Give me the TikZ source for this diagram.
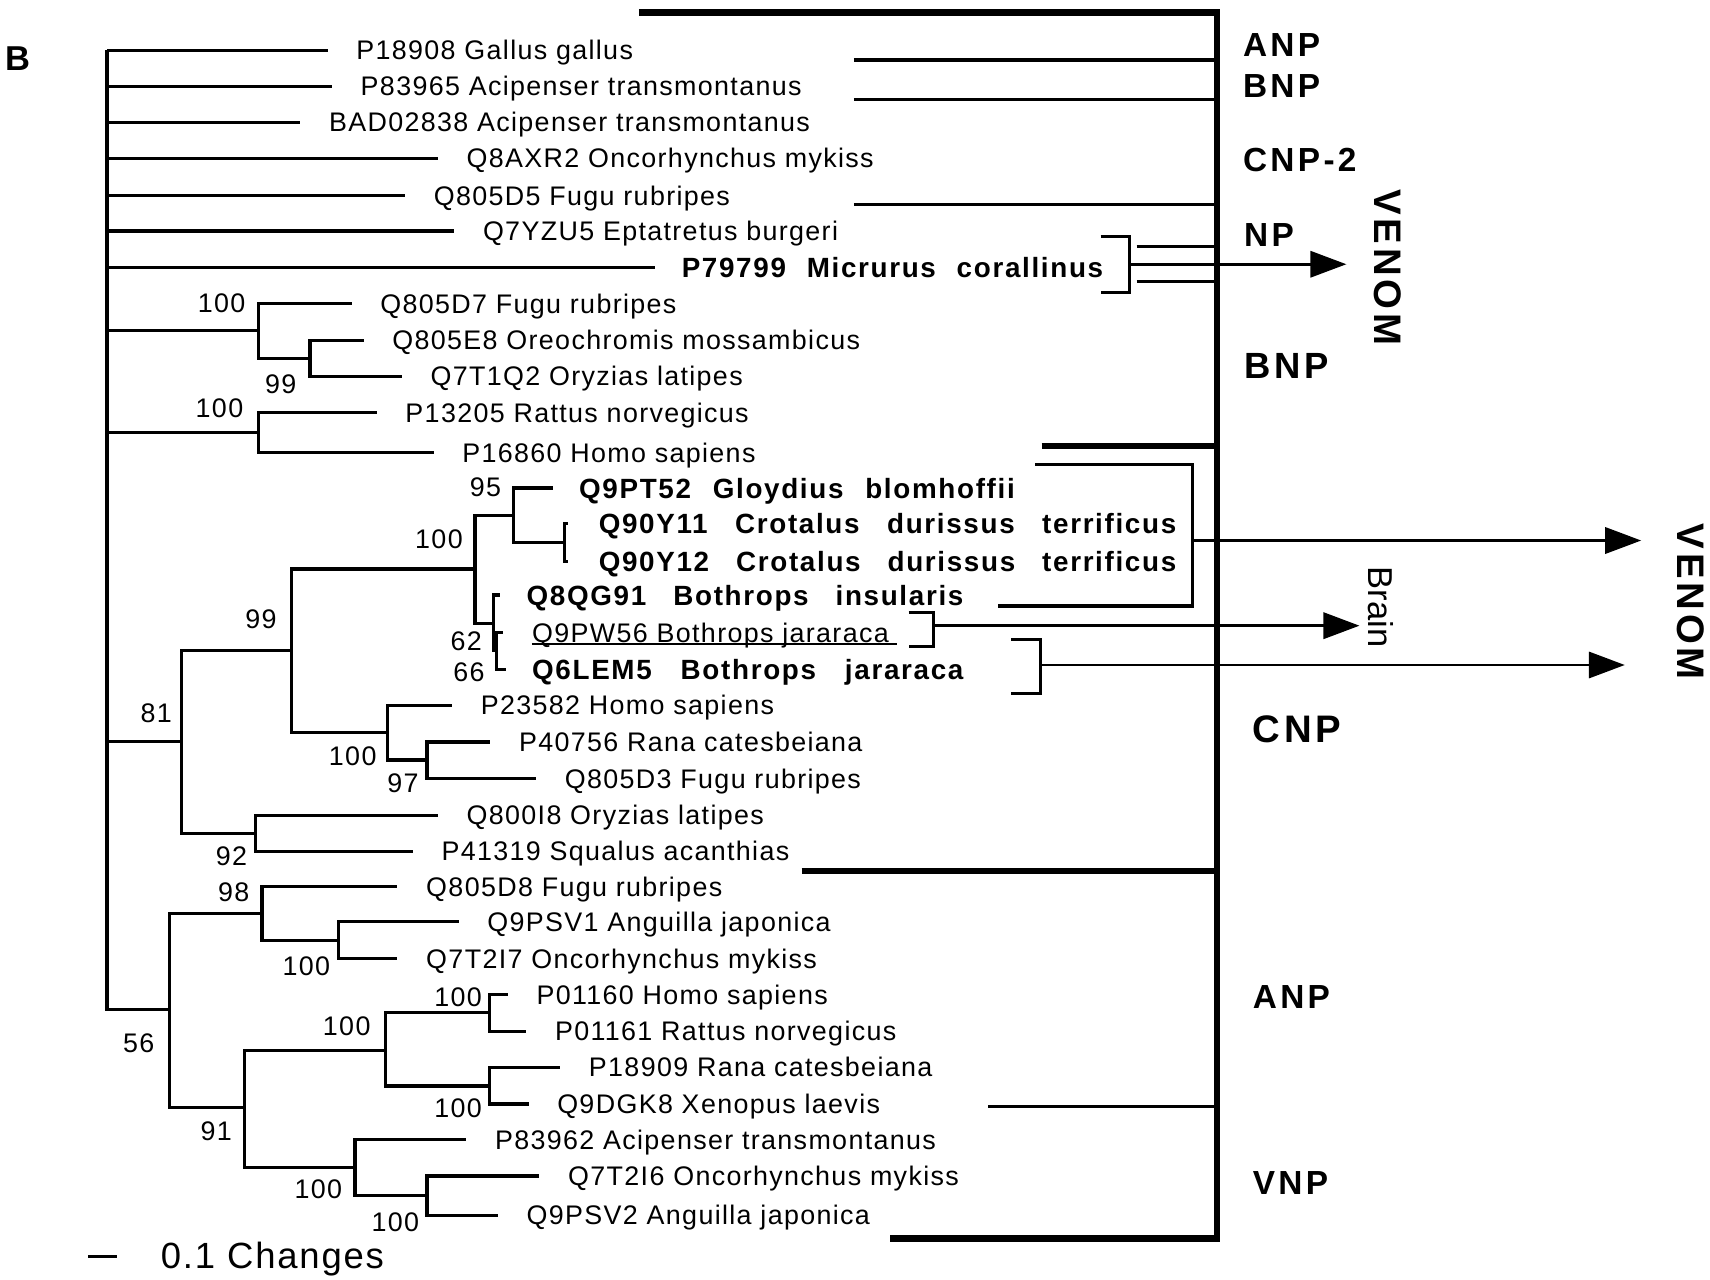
\documentclass[tikz,border=0pt]{standalone}
\usepackage{fontspec}
\setmainfont{Liberation Sans}
\newfontfamily\leaffont{Liberation Sans}[LetterSpace=5]
\newfontfamily\snakefont{Liberation Sans}[LetterSpace=6]
\newfontfamily\venomfont{Liberation Sans}[LetterSpace=10]
\usetikzlibrary{arrows.meta}
\newcommand{\vname}[2]{\makebox[#1][s]{#2}}

\tikzset{
  br/.style={line width=1.7pt},
  leaf/.style={anchor=west,inner xsep=0.52cm,inner ysep=0pt,text height=0.35cm,text depth=0pt,
    font=\leaffont\fontsize{14}{16}\selectfont},
  vleaf/.style={leaf,inner xsep=0.48cm,text height=0.365cm,
    font=\snakefont\bfseries\fontsize{14.5}{16}\selectfont},
  boot/.style={inner sep=0pt,font=\leaffont\fontsize{14}{16}\selectfont},
  grp/.style={anchor=west,inner sep=0pt,font=\venomfont\bfseries\fontsize{17.4}{20}\selectfont},
  venom/.style={rotate=-90,inner sep=0pt,font=\venomfont\bfseries\fontsize{20}{24}\selectfont},
  spine/.style={line width=3.5pt},
  sepline/.style={line width=3.1pt},
  thinl/.style={line width=1.7pt},
  brk/.style={line width=1.6pt},
  arr/.style={line width=1.5pt,-{Triangle[length=0.66cm,width=0.48cm]}},
}

\begin{document}
\begin{tikzpicture}[x=0.02cm,y=-0.02cm]
\useasboundingbox (0,0) rectangle (1566,1172);

%panel letter
\node[inner sep=0pt,font=\bfseries\fontsize{18}{20}\selectfont] (panelB) at (16,54) {B};

%internal nodes
\coordinate (root) at (98,46);
\coordinate (n1) at (237,303);
\coordinate (n2) at (284,328);
\coordinate (n3) at (237,396);
\coordinate (n4) at (166,679);
\coordinate (n5) at (267,595.5);
\coordinate (n6) at (435,521);
\coordinate (n7) at (470,472);
\coordinate (n8) at (452,571);
\coordinate (n9) at (517,497);
\coordinate (n10) at (355,671);
\coordinate (n11) at (455,596);
\coordinate (n12) at (234,763);
\coordinate (n13) at (391,696);
\coordinate (n14) at (155,924.5);
\coordinate (n15) at (240,836.5);
\coordinate (n16) at (310,861);
\coordinate (n17) at (224,1014.5);
\coordinate (n18) at (353,962);
\coordinate (n19) at (448,927.5);
\coordinate (n20) at (448,994.5);
\coordinate (n21) at (325,1069.5);
\coordinate (n22) at (391,1095);

%leaves
\node[leaf] (p18908) at (300,46) {P18908 Gallus gallus};
\node[leaf] (p83965) at (304,79) {P83965 Acipenser transmontanus};
\node[leaf] (bad02838) at (275,112) {BAD02838 Acipenser transmontanus};
\node[leaf] (q8axr2) at (401,145) {Q8AXR2 Oncorhynchus mykiss};
\node[leaf] (q805d5) at (371,179) {Q805D5 Fugu rubripes};
\node[leaf] (q7yzu5) at (416,211.5) {Q7YZU5 Eptatretus burgeri};
\node[vleaf] (p79799) at (600,245) {\vname{7.72cm}{P79799 Micrurus corallinus}};
\node[leaf] (q805d7) at (322,278) {Q805D7 Fugu rubripes};
\node[leaf] (q805e8) at (333,311.5) {Q805E8 Oreochromis mossambicus};
\node[leaf] (q7t1q2) at (368,344.5) {Q7T1Q2 Oryzias latipes};
\node[leaf] (p13205) at (345,378) {P13205 Rattus norvegicus};
\node[leaf] (p16860) at (397,414.5) {P16860 Homo sapiens};
\node[vleaf] (q9pt52) at (506,447) {\vname{7.98cm}{Q9PT52 Gloydius blomhoffii}};
\node[vleaf,inner xsep=0.56cm] (q90y11) at (520,479.5) {\vname{10.58cm}{Q90Y11 Crotalus durissus terrificus}};
\node[vleaf,inner xsep=0.56cm] (q90y12) at (520,514.5) {\vname{10.58cm}{Q90Y12 Crotalus durissus terrificus}};
\node[vleaf] (q8qg91) at (458,545) {\vname{8cm}{Q8QG91 Bothrops insularis}};
\node[leaf] (q9pw56) at (461,579.5) {Q9PW56 Bothrops jararaca};
\node[vleaf] (q6lem5) at (463,613) {\vname{7.9cm}{Q6LEM5 Bothrops jararaca}};
\node[leaf] (p23582) at (414,646) {P23582 Homo sapiens};
\node[leaf] (p40756) at (449,679.5) {P40756 Rana catesbeiana};
\node[leaf] (q805d3) at (491,713) {Q805D3 Fugu rubripes};
\node[leaf] (q800i8) at (401,746.5) {Q800I8 Oryzias latipes};
\node[leaf] (p41319) at (378,779.5) {P41319 Squalus acanthias};
\node[leaf] (q805d8) at (364,812) {Q805D8 Fugu rubripes};
\node[leaf] (q9psv1) at (420,844) {Q9PSV1 Anguilla japonica};
\node[leaf] (q7t2i7) at (364,878) {Q7T2I7 Oncorhynchus mykiss};
\node[leaf] (p01160) at (465,911) {P01160 Homo sapiens};
\node[leaf] (p01161) at (482,944.5) {P01161 Rattus norvegicus};
\node[leaf] (p18909) at (513,977.5) {P18909 Rana catesbeiana};
\node[leaf] (q9dgk8) at (484,1011) {Q9DGK8 Xenopus laevis};
\node[leaf] (p83962) at (427,1043.5) {P83962 Acipenser transmontanus};
\node[leaf] (q7t2i6) at (494,1077) {Q7T2I6 Oncorhynchus mykiss};
\node[leaf] (q9psv2) at (456,1113) {Q9PSV2 Anguilla japonica};
\draw[line width=1pt] ([xshift=0.52cm,yshift=-0.03cm]q9pw56.south west) -- ([xshift=-0.38cm,yshift=-0.03cm]q9pw56.south east);

%branches
\foreach \n in {p18908.west,p83965.west,bad02838.west,q8axr2.west,q805d5.west,q7yzu5.west,p79799.west,n1,n3,n4,n14}
  \draw[br] (root) |- (\n);
\draw[br] (n1) |- (q805d7.west);
\draw[br] (n1) |- (n2);
\draw[br] (n2) |- (q805e8.west);
\draw[br] (n2) |- (q7t1q2.west);
\draw[br] (n3) |- (p13205.west);
\draw[br] (n3) |- (p16860.west);
\draw[br] (n4) |- (n5);
\draw[br] (n4) |- (n12);
\draw[br] (n5) |- (n6);
\draw[br] (n5) |- (n10);
\draw[br] (n6) |- (n7);
\draw[br] (n6) |- (n8);
\draw[br] (n7) |- (q9pt52.west);
\draw[br] (n7) |- (n9);
\draw[brk] (n9) |- (q90y11.west);
\draw[brk] (n9) |- (q90y12.west);
\draw[br] (n8) |- (q8qg91.west);
\draw[br] (n8) |- (n11);
\draw[br] (n11) |- (q9pw56.west);
\draw[br] (n11) |- (q6lem5.west);
\draw[br] (n10) |- (p23582.west);
\draw[br] (n10) |- (n13);
\draw[br] (n13) |- (p40756.west);
\draw[br] (n13) |- (q805d3.west);
\draw[br] (n12) |- (q800i8.west);
\draw[br] (n12) |- (p41319.west);
\draw[br] (n14) |- (n15);
\draw[br] (n14) |- (n17);
\draw[br] (n15) |- (q805d8.west);
\draw[br] (n15) |- (n16);
\draw[br] (n16) |- (q9psv1.west);
\draw[br] (n16) |- (q7t2i7.west);
\draw[br] (n17) |- (n18);
\draw[br] (n17) |- (n21);
\draw[br] (n18) |- (n19);
\draw[br] (n18) |- (n20);
\draw[br] (n19) |- (p01160.west);
\draw[br] (n19) |- (p01161.west);
\draw[br] (n20) |- (p18909.west);
\draw[br] (n20) |- (q9dgk8.west);
\draw[br] (n21) |- (p83962.west);
\draw[br] (n21) |- (n22);
\draw[br] (n22) |- (q7t2i6.west);
\draw[br] (n22) |- (q9psv2.west);

%bootstrap values
\node[boot] (s1) at (203,278) {100};
\node[boot] (s2) at (257,352) {99};
\node[boot] (s3) at (201,374) {100};
\node[boot] (s4) at (444.5,446.5) {95};
\node[boot] (s5) at (402,494) {100};
\node[boot] (s6) at (239,567) {99};
\node[boot] (s7) at (143,653) {81};
\node[boot] (s8) at (427,587) {62};
\node[boot] (s9) at (429.5,615.5) {66};
\node[boot] (s10) at (323,693) {100};
\node[boot] (s11) at (369,717) {97};
\node[boot] (s12) at (212,784) {92};
\node[boot] (s13) at (214,817) {98};
\node[boot] (s14) at (280.5,885) {100};
\node[boot] (s15) at (127,955.5) {56};
\node[boot] (s16) at (419.5,913) {100};
\node[boot] (s17) at (317.5,940) {100};
\node[boot] (s18) at (419.5,1015) {100};
\node[boot] (s19) at (198,1036) {91};
\node[boot] (s20) at (291.5,1089.5) {100};
\node[boot] (s21) at (362,1119) {100};

%scale bar
\coordinate (sb1) at (81,1151);
\coordinate (sb2) at (107,1151);
\draw[line width=1.5pt] (sb1) -- (sb2);
\node[anchor=west,inner sep=0pt,text height=13.6pt,text depth=0pt,font=\leaffont\fontsize{19}{22}\selectfont] (scale) at (147,1150) {0.1 Changes};

%family bar
\draw[spine] (585,11.5) -- (1114.5,11.5) -- (1114.5,1134) -- (815,1134);
\foreach \y in {55,91,187}
  \draw[thinl] (782,\y) -- (1114.5,\y);
\draw[sepline] (954,408.5) -- (1114.5,408.5);
\draw[sepline] (734,798) -- (1114.5,798);
\draw[thinl] (905,1013) -- (1114.5,1013);

\node[grp] (anp1) at (1138,41.5) {ANP};
\node[grp] (bnp1) at (1138,78.5) {BNP};
\node[grp] (cnp2) at (1138,146.5) {CNP-2};
\node[grp] (np) at (1139,215) {NP};
\node[grp,font=\venomfont\bfseries\fontsize{19}{22}\selectfont] (bnp2) at (1139,335) {BNP};
\node[grp,font=\venomfont\bfseries\fontsize{20}{22}\selectfont] (cnp) at (1147,668) {CNP};
\node[grp] (anp2) at (1147,913) {ANP};
\node[grp] (vnp) at (1147,1083) {VNP};

%venom and brain arrows
\coordinate (tip1) at (1233,242);
\coordinate (tip2) at (1503,495);
\coordinate (tip3) at (1245,573);
\coordinate (tip4) at (1488,609);
\draw[brk] (1008,217) -| (1034,268) -- (1008,268);
\foreach \y in {226,258}
  \draw[thinl] (1041,\y) -- (1114.5,\y);
\draw[arr] (1034,242) -- (tip1);
\draw[brk] (948,425) -| (1092,555) -- (914,555);
\draw[arr] (1092,495) -- (tip2);
\draw[brk] (832,561) -| (855,592) -- (832,592);
\draw[arr] (855,573) -- (tip3);
\draw[brk] (926,585.5) -| (953,635) -- (926,635);
\draw[arr] (953,609) -- (tip4);

\node[venom] (venom1) at (1271,245) {VENOM};
\node[venom] (venom2) at (1548,551) {VENOM};
\node[rotate=-90,inner sep=0pt,font=\fontsize{18}{20}\selectfont] (brain) at (1265,556) {Brain};
\end{tikzpicture}
\end{document}
